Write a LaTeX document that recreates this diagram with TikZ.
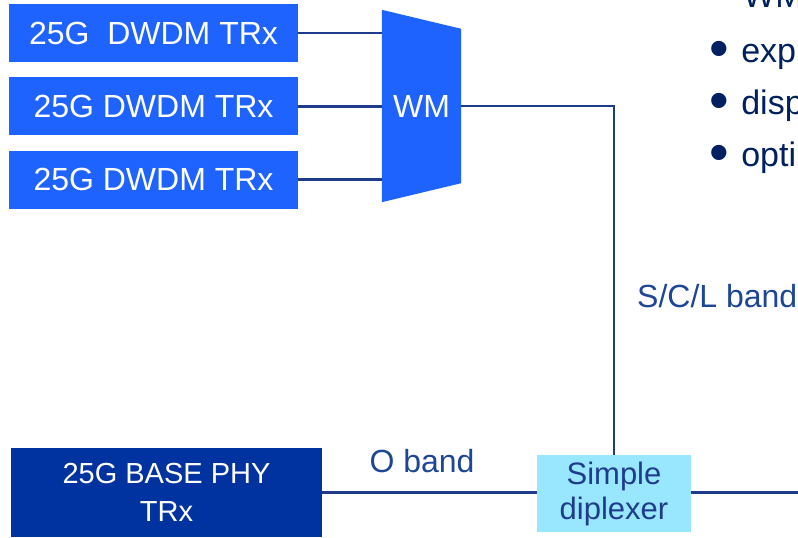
\documentclass[tikz,border=0pt]{standalone}
\usepackage{fontspec}
\setmainfont{Liberation Sans}
\usetikzlibrary{positioning,backgrounds}

\definecolor{trxblue}{RGB}{31,99,255}
\definecolor{phyblue}{RGB}{0,51,160}
\definecolor{dipcyan}{RGB}{153,230,255}
\definecolor{fibre}{RGB}{31,60,140}
\definecolor{labelblue}{RGB}{30,70,150}
\definecolor{navy}{RGB}{0,32,96}

\newcommand*{\ItemDot}{\raisebox{-5.5pt}{\fontsize{56}{56}\selectfont\textbullet}\hspace{12pt}}

\begin{document}
\begin{tikzpicture}[
  x=1pt,
  y=-1pt,
  trx/.style={fill=trxblue,text=white,minimum width=289pt,minimum height=58pt,
    inner sep=0pt,font=\fontsize{32}{38}\selectfont},
  mux/.style={text=white,minimum width=79pt,minimum height=192pt,inner sep=0pt,
    font=\fontsize{32}{38}\selectfont},
  phy/.style={fill=phyblue,text=white,minimum width=311pt,minimum height=89pt,
    align=center,inner sep=0pt,font=\fontsize{29}{38}\selectfont},
  diplexer/.style={fill=dipcyan,text=fibre,minimum width=154pt,minimum height=77pt,
    align=center,inner sep=0pt,font=\fontsize{31}{35}\selectfont},
  fibre line/.style={draw=fibre,line width=2.7pt},
  band/.style={text=labelblue,inner sep=0pt,font=\fontsize{32}{38}\selectfont},
  item/.style={text=navy,inner sep=0pt,anchor=base west,font=\fontsize{34}{40}\selectfont},
]
  \useasboundingbox (0,0) rectangle (798,538);
  \clip (0,0) rectangle (798,538);

  % transceivers on the left
  \node[trx] (trx1) at (153.5,33) {25G~~DWDM TRx};
  \node[trx, below=15pt of trx1] (trx2) {25G DWDM TRx};
  \node[trx, below=15pt of trx2] (trx3) {25G DWDM TRx};

  % wavelength mux
  \node[mux] (wm) at (421.5,106) {WM};
  \begin{scope}[on background layer]
    \fill[trxblue] (wm.north west) -- ([yshift=-19pt]wm.north east)
      -- ([yshift=19pt]wm.south east) -- (wm.south west) -- cycle;
  \end{scope}

  % bottom row
  \node[phy] (phy) at (166.5,492.5) {25G BASE PHY\\TRx};
  \node[diplexer] (dip) at (614,493.5) {Simple\\diplexer};
  \coordinate (trunk) at (800,492.5);

  % fibres
  \foreach \i in {1,2,3}
    \draw[fibre line] (trx\i.east) -- (trx\i.east -| wm.west);
  \draw[fibre line] (wm.east) -| (dip.north);
  \draw[fibre line] (phy.east) -- (phy.east -| dip.west);
  \draw[fibre line] (dip.east |- phy.east) -- (trunk);

  % band labels
  \node[band] (oband) at (422,461) {O band};
  \node[band, anchor=west] (scl) at (637,296) {S/C/L band};

  % bullet list, cut at the right edge
  \node[item] (head) at (743,8) {WM};
  \node[item] (item1) at (709.5,62) {\ItemDot exp};
  \node[item] (item2) at (709.5,114) {\ItemDot disp};
  \node[item] (item3) at (709.5,166) {\ItemDot opti};
\end{tikzpicture}
\end{document}
